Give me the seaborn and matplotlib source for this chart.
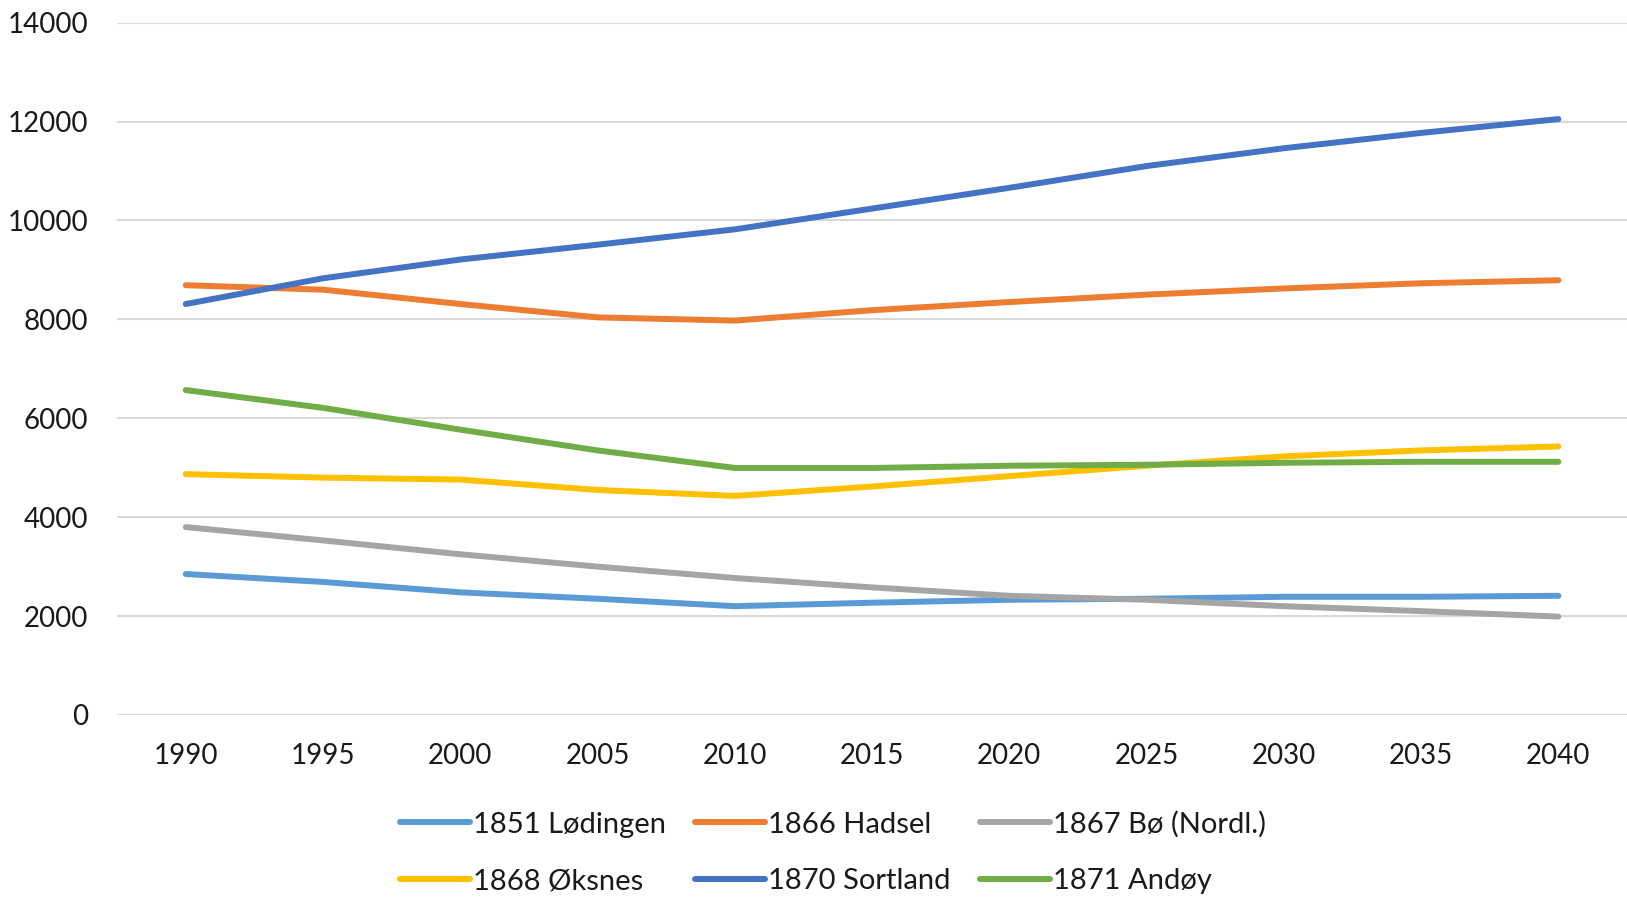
import pandas as pd
import seaborn as sns
import matplotlib.pyplot as plt

years = [1990, 1995, 2000, 2005, 2010, 2015, 2020, 2025, 2030, 2035, 2040]
lodingen = [2850, 2690, 2480, 2350, 2200, 2270, 2330, 2350, 2390, 2390, 2410]
hadsel = [8690, 8600, 8310, 8040, 7975, 8185, 8350, 8500, 8625, 8730, 8790]
bo = [3800, 3530, 3250, 3000, 2770, 2580, 2410, 2330, 2200, 2100, 1990]
oksnes = [4870, 4800, 4760, 4550, 4430, 4620, 4830, 5040, 5230, 5350, 5430]
sortland = [8310, 8830, 9210, 9510, 9820, 10240, 10660, 11100, 11460, 11770, 12050]
andoy = [6570, 6210, 5770, 5350, 4995, 4995, 5040, 5060, 5100, 5120, 5120]

names = ['1851 Lødingen', '1866 Hadsel', '1867 Bø (Nordl.)',
         '1868 Øksnes', '1870 Sortland', '1871 Andøy']
colors = ['#5B9BD5', '#ED7D31', '#A5A5A5', '#FFC000', '#4472C4', '#70AD47']
series = [lodingen, hadsel, bo, oksnes, sortland, andoy]

df = pd.DataFrame({'year': years * len(names),
                   'value': sum(series, []),
                   'name': [n for n in names for _ in years]})

sns.set_style('white')
plt.rcParams['font.family'] = ['Lato', 'DejaVu Sans']

fig = plt.figure(figsize=(16.27, 8.98), dpi=100)
ax = fig.add_axes([0.072, 0.2038, 0.928, 0.771])

sns.lineplot(data=df, x='year', y='value', hue='name', hue_order=names,
             palette=colors, linewidth=4.3, ax=ax, legend=True,
             solid_capstyle='round')

ax.set_xlim(1987.5, 2042.5)
ax.set_ylim(0, 14000)
ax.set_xticks(years)
ax.set_yticks(range(0, 14001, 2000))
ax.grid(axis='y', color='#d9d9d9', linewidth=1.5)
ax.set_axisbelow(True)
for s in ax.spines.values():
    s.set_visible(False)
ax.tick_params(axis='both', length=0, labelsize=20, colors='#1a1a1a')
ax.tick_params(axis='y', pad=21)
ax.tick_params(axis='x', pad=20)
ax.set_xlabel('')
ax.set_ylabel('')

handles, labels = ax.get_legend_handles_labels()
ax.get_legend().remove()
order = [0, 3, 1, 4, 2, 5]
fig.legend([handles[i] for i in order], [labels[i] for i in order],
           loc='lower center', bbox_to_anchor=(0.512, -0.025), ncol=3,
           frameon=False, fontsize=21, handlelength=2.4, handletextpad=0.1,
           columnspacing=1.0, labelspacing=1.05, labelcolor='#1a1a1a')

fig.savefig('out.png', dpi=100)
